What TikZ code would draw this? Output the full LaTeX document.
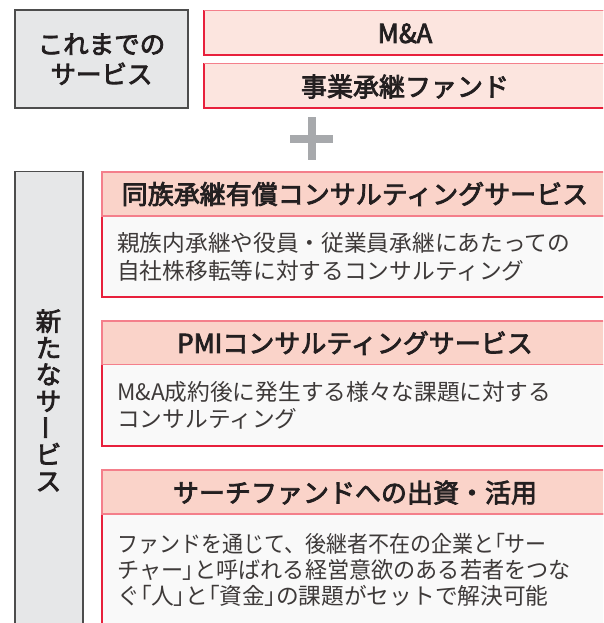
\documentclass[tikz,border=0pt]{standalone}
\usepackage{fontspec}
\setmainfont{Noto Sans CJK JP}
\newfontfamily\jpmed[FakeBold=3]{Noto Sans CJK JP}
\newfontfamily\jppalt[RawFeature=+palt]{Noto Sans CJK JP}
\newcommand{\lbk}{{\jppalt 「}}
\newcommand{\rbk}{{\jppalt 」}}
\definecolor{grayfill}{HTML}{E6E7E8}
\definecolor{grayline}{HTML}{4D4D4D}
\definecolor{mafill}{HTML}{FCE5DF}
\definecolor{hdfill}{HTML}{FAD3C9}
\definecolor{bdfill}{HTML}{F9F9F9}
\definecolor{pinkline}{HTML}{F47F8B}
\definecolor{redline}{HTML}{E8203C}
\definecolor{plusgray}{HTML}{A7A9AC}
\definecolor{txt}{HTML}{231F20}
\definecolor{bodytxt}{HTML}{3E3A39}
\tikzset{
  graybox/.style={fill=grayfill, draw=grayline, line width=1.3pt},
  redbox/.style={fill=mafill, draw=redline, line width=1.3pt},
  hdbox/.style={fill=hdfill, draw=pinkline, line width=1.4pt},
  bdbox/.style={fill=bdfill, draw=redline, line width=1.3pt},
  toptxt/.style={font=\jpmed\fontsize{25.5}{30}\selectfont, text=txt, inner sep=0pt, text height=19.4pt, text depth=0pt},
  hdtxt/.style={font=\jpmed\fontsize{26}{30}\selectfont, text=txt, inner sep=0pt, text height=19.8pt, text depth=0pt},
  bodytext/.style={font=\fontsize{22.7}{27}\selectfont, text=bodytxt, inner sep=0pt, text height=17.3pt, text depth=0pt, anchor=west},
  plusbar/.style={fill=plusgray, draw=none}
}
\begin{document}
\begin{tikzpicture}[x=1pt,y=-1pt]
\useasboundingbox (0,0) rectangle (603,623);
\fill[white] (0,0) rectangle (603,623);
\clip (0,0) rectangle (603,623);
% old services
\draw[graybox] (15,10) rectangle (188,108);
\node[toptxt] (old1) at (101.5,44) {これまでの};
\node[toptxt] (old2) at (101.5,74) {サービス};
\draw[redbox] (204,10.5) rectangle (612,55);
\draw[pinkline, line width=1.3pt] (204,10.5) -- (612,10.5);
\node[hdtxt] (ma) at (405,33) {M\&A};
\draw[redbox] (204,63.5) rectangle (612,108);
\draw[pinkline, line width=1.3pt] (204,63.5) -- (612,63.5);
\node[hdtxt] (fund) at (405,86.5) {事業承継ファンド};
% plus
\fill[plusbar] (307.5,117) rectangle (315.5,160);
\fill[plusbar] (290,135) rectangle (333,143);
% new services
\draw[graybox] (15,171.5) rectangle (83,640);
\node[toptxt] (n1) at (48.5,321) {新};
\node[toptxt] (n2) at (48.5,347.7) {た};
\node[toptxt] (n3) at (48.5,374.3) {な};
\node[toptxt] (n4) at (48.5,401) {サ};
\node[toptxt, text height=25.5pt, rotate=-90] (n5) at (48.5,427.7) {ー};
\node[toptxt] (n6) at (48.5,454.3) {ビ};
\node[toptxt] (n7) at (48.5,481) {ス};
% card 1
\draw[bdbox] (102,216) rectangle (608,297);
\draw[hdbox] (102,172) rectangle (608,216);
\node[hdtxt] (h1) at (355,194) {同族承継有償コンサルティングサービス};
\node[bodytext] (b1a) at (117,243) {親族内承継や役員・従業員承継にあたっての};
\node[bodytext] (b1b) at (117,271) {自社株移転等に対するコンサルティング};
% card 2
\draw[bdbox] (102,364.5) rectangle (608,446);
\draw[hdbox] (102,321) rectangle (608,364.5);
\node[hdtxt] (h2) at (355,343) {PMIコンサルティングサービス};
\node[bodytext] (b2a) at (117,392) {M\&A成約後に発生する様々な課題に対する};
\node[bodytext] (b2b) at (117,419) {コンサルティング};
% card 3
\draw[bdbox] (102,514) rectangle (608,640);
\draw[hdbox] (102,470) rectangle (608,514);
\node[hdtxt] (h3) at (355,492.5) {サーチファンドへの出資・活用};
\node[bodytext] (b3a) at (117,544) {\scalebox{0.925}[1]{ファンドを通じて、後継者不在の企業と\lbk サー}};
\node[bodytext] (b3b) at (117,570) {\scalebox{0.975}[1]{チャー\rbk と呼ばれる経営意欲のある若者をつな}};
\node[bodytext] (b3c) at (117,596) {ぐ\lbk 人\rbk と\lbk 資金\rbk の課題がセットで解決可能};
\end{tikzpicture}
\end{document}
